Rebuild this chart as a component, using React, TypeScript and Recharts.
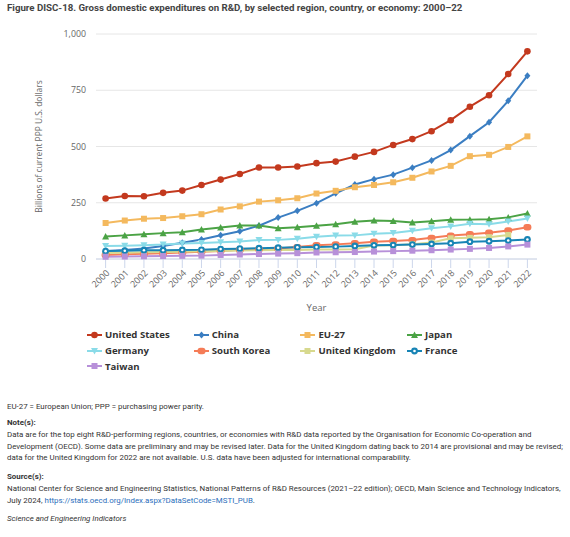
import React from 'react';
import { LineChart, Line, XAxis, YAxis, CartesianGrid } from 'recharts';

const years = ['2000','2001','2002','2003','2004','2005','2006','2007','2008','2009','2010','2011','2012','2013','2014','2015','2016','2017','2018','2019','2020','2021','2022'];
const yTicks = [0, 250, 500, 750, 1000];

const unitedStates = [269, 280, 279, 294, 304, 329, 353, 378, 407, 407, 411, 426, 433, 455, 476, 507, 533, 568, 617, 677, 728, 822, 923];
const china = [36, 40, 47, 58, 72, 87, 106, 123, 148, 184, 214, 248, 292, 331, 355, 375, 406, 438, 484, 546, 608, 703, 815];
const eu27 = [160, 171, 179, 182, 190, 199, 220, 234, 255, 261, 270, 291, 303, 319, 329, 341, 361, 389, 414, 457, 463, 498, 545];
const japan = [100, 105, 110, 115, 119, 131, 140, 149, 149, 137, 141, 148, 154, 166, 171, 169, 162, 168, 174, 175, 177, 185, 202];
const germany = [58, 59, 61, 64, 69, 71, 74, 78, 84, 85, 90, 99, 104, 105, 112, 116, 126, 137, 145, 157, 154, 167, 180];
const southKorea = [18, 21, 23, 25, 29, 32, 36, 41, 44, 47, 53, 61, 65, 70, 77, 80, 84, 94, 104, 110, 117, 127, 141];
const unitedKingdom = [27, 28, 30, 31, 32, 34, 36, 38, 39, 40, 40, 42, 42, 43, 60, 61, 66, 73, 92, 94, 97, 107, null];
const france = [35, 37, 39, 39, 40, 41, 44, 46, 48, 50, 52, 53, 55, 58, 61, 62, 64, 67, 70, 77, 79, 82, 87];
const taiwan = [10, 11, 12, 13, 14, 15, 18, 20, 22, 24, 26, 29, 30, 31, 33, 35, 37, 39, 42, 45, 49, 56, 64];

type Shape = 'circle' | 'diamond' | 'square' | 'triangle' | 'triangleDown' | 'ring' | 'blob';

const seriesList: { key: string; name: string; values: (number | null)[]; color: string; shape: Shape }[] = [
  { key: 'us', name: 'United States', values: unitedStates, color: '#c3391e', shape: 'circle' },
  { key: 'cn', name: 'China', values: china, color: '#3b7ec2', shape: 'diamond' },
  { key: 'eu', name: 'EU-27', values: eu27, color: '#f4b95e', shape: 'square' },
  { key: 'jp', name: 'Japan', values: japan, color: '#4ba345', shape: 'triangle' },
  { key: 'de', name: 'Germany', values: germany, color: '#8adbe8', shape: 'triangleDown' },
  { key: 'kr', name: 'South Korea', values: southKorea, color: '#f57c57', shape: 'blob' },
  { key: 'uk', name: 'United Kingdom', values: unitedKingdom, color: '#d7d98e', shape: 'square' },
  { key: 'fr', name: 'France', values: france, color: '#1784b5', shape: 'ring' },
  { key: 'tw', name: 'Taiwan', values: taiwan, color: '#b790d9', shape: 'square' },
];

const data = years.map((y, i) => {
  const row: Record<string, any> = { year: y };
  seriesList.forEach((s) => { row[s.key] = s.values[i]; });
  return row;
});

function Marker({ cx, cy, shape, color }: { cx: number; cy: number; shape: Shape; color: string }) {
  switch (shape) {
    case 'circle':
      return <circle cx={cx} cy={cy} r={3.3} fill={color} />;
    case 'diamond':
      return <polygon points={`${cx},${cy - 3.5} ${cx + 3},${cy} ${cx},${cy + 3.5} ${cx - 3},${cy}`} fill={color} />;
    case 'square':
      return <rect x={cx - 3} y={cy - 3} width={6} height={6} fill={color} />;
    case 'triangle':
      return <polygon points={`${cx},${cy - 3.5} ${cx + 3.5},${cy + 3} ${cx - 3.5},${cy + 3}`} fill={color} />;
    case 'triangleDown':
      return <polygon points={`${cx - 3.5},${cy - 3} ${cx + 3.5},${cy - 3} ${cx},${cy + 3.5}`} fill={color} />;
    case 'ring':
      return (
        <g>
          <circle cx={cx} cy={cy} r={3.4} fill={color} />
          <circle cx={cx} cy={cy} r={1.3} fill="#fff" />
        </g>
      );
    case 'blob':
      return <rect x={cx - 4} y={cy - 3.2} width={8} height={6.4} rx={3} fill={color} />;
  }
  return null;
}

const makeDot = (shape: Shape, color: string, key: string) => (props: any) => {
  const { cx, cy, index, value } = props;
  if (cx == null || cy == null || value == null || Number.isNaN(cy)) return <g key={`${key}-${index}`} />;
  return (
    <g key={`${key}-${index}`}>
      <Marker cx={cx} cy={cy} shape={shape} color={color} />
    </g>
  );
};

const YLabel = (props: any) => {
  const vb = props.viewBox || { x: 0, y: 0, width: 0, height: 0 };
  const x = vb.x + 40;
  const y = vb.y + vb.height / 2;
  return (
    <text x={x} y={y} transform={`rotate(-90 ${x} ${y})`} textAnchor="middle" dominantBaseline="middle"
      fill="#666" fontSize={8.4} fontFamily="'Open Sans', sans-serif">
      Billions of current PPP U.S. dollars
    </text>
  );
};

function LegendBlock() {
  return (
    <div style={{ position: 'absolute', left: 87, top: 327, width: 440, display: 'flex', flexWrap: 'wrap' }}>
      {seriesList.map((s) => (
        <div key={s.key} style={{ width: 106.7, height: 15.7, display: 'flex', alignItems: 'center' }}>
          <svg width={15} height={10} style={{ flex: 'none' }}>
            <line x1={0} y1={5} x2={15} y2={5} stroke={s.color} strokeWidth={2} />
            <Marker cx={7.5} cy={5} shape={s.shape} color={s.color} />
          </svg>
          <span style={{ marginLeft: 3, fontFamily: "'Open Sans', sans-serif", fontWeight: 700, fontSize: 9.6, color: '#333', whiteSpace: 'nowrap' }}>
            {s.name}
          </span>
        </div>
      ))}
    </div>
  );
}

const noteStyle: React.CSSProperties = { position: 'absolute', left: 7, fontSize: 7.9, lineHeight: '11.5px', color: '#333', whiteSpace: 'nowrap', fontFamily: 'Roboto, sans-serif' };

export default function App() {
  return (
    <div style={{ position: 'absolute', left: 0, top: 0, width: 570, height: 537, background: '#fff', fontFamily: 'Roboto, sans-serif', overflow: 'hidden' }}>
      <div style={{ position: 'absolute', left: 7, top: 2, fontSize: 9.7, fontWeight: 700, color: '#444', whiteSpace: 'nowrap' }}>
        Figure DISC-18. Gross domestic expenditures on R&amp;D, by selected region, country, or economy: 2000–22
      </div>
      <div style={{ position: 'absolute', left: 0, top: 0 }}>
        <LineChart width={570} height={320} data={data} margin={{ top: 34, right: 33, bottom: 0, left: 0 }}>
          <CartesianGrid vertical={false} stroke="#e6e6e6" />
          <XAxis
            dataKey="year"
            height={61}
            padding={{ left: 9.6, right: 9.6 }}
            interval={0}
            angle={-45}
            textAnchor="end"
            tickSize={9}
            tickMargin={1}
            stroke="#ccd6eb"
            tick={{ fill: '#666', fontSize: 9, fontFamily: "'Open Sans', sans-serif" }}
            label={{ value: 'Year', position: 'insideBottom', offset: 9, fill: '#666', fontSize: 9.5, fontFamily: "'Open Sans', sans-serif" }}
          />
          <YAxis
            width={96}
            domain={[0, 1000]}
            ticks={yTicks}
            axisLine={false}
            tickLine={false}
            tickMargin={4}
            tickFormatter={(v: number) => v.toLocaleString('en-US')}
            tick={{ fill: '#666', fontSize: 8.8, fontFamily: "'Open Sans', sans-serif" }}
            label={<YLabel />}
          />
          {seriesList.map((s) => (
            <Line
              key={s.key}
              dataKey={s.key}
              name={s.name}
              stroke={s.color}
              strokeWidth={2}
              dot={makeDot(s.shape, s.color, s.key)}
              activeDot={false}
              isAnimationActive={false}
              connectNulls={false}
            />
          ))}
        </LineChart>
      </div>
      <LegendBlock />
      <div style={{ ...noteStyle, top: 401 }}>EU-27 = European Union; PPP = purchasing power parity.</div>
      <div style={{ ...noteStyle, top: 417, fontWeight: 700 }}>Note(s):</div>
      <div style={{ ...noteStyle, top: 429 }}>
        Data are for the top eight R&amp;D-performing regions, countries, or economies with R&amp;D data reported by the Organisation for Economic Co-operation and<br />
        Development (OECD). Some data are preliminary and may be revised later. Data for the United Kingdom dating back to 2014 are provisional and may be revised;<br />
        data for the United Kingdom for 2022 are not available. U.S. data have been adjusted for international comparability.
      </div>
      <div style={{ ...noteStyle, top: 471, fontWeight: 700 }}>Source(s):</div>
      <div style={{ ...noteStyle, top: 483 }}>
        National Center for Science and Engineering Statistics, National Patterns of R&amp;D Resources (2021–22 edition); OECD, Main Science and Technology Indicators,<br />
        July 2024, <span style={{ color: '#2a6ebb' }}>https://stats.oecd.org/Index.aspx?DataSetCode=MSTI_PUB</span>.
      </div>
      <div style={{ ...noteStyle, top: 513, fontStyle: 'italic' }}>Science and Engineering Indicators</div>
    </div>
  );
}
